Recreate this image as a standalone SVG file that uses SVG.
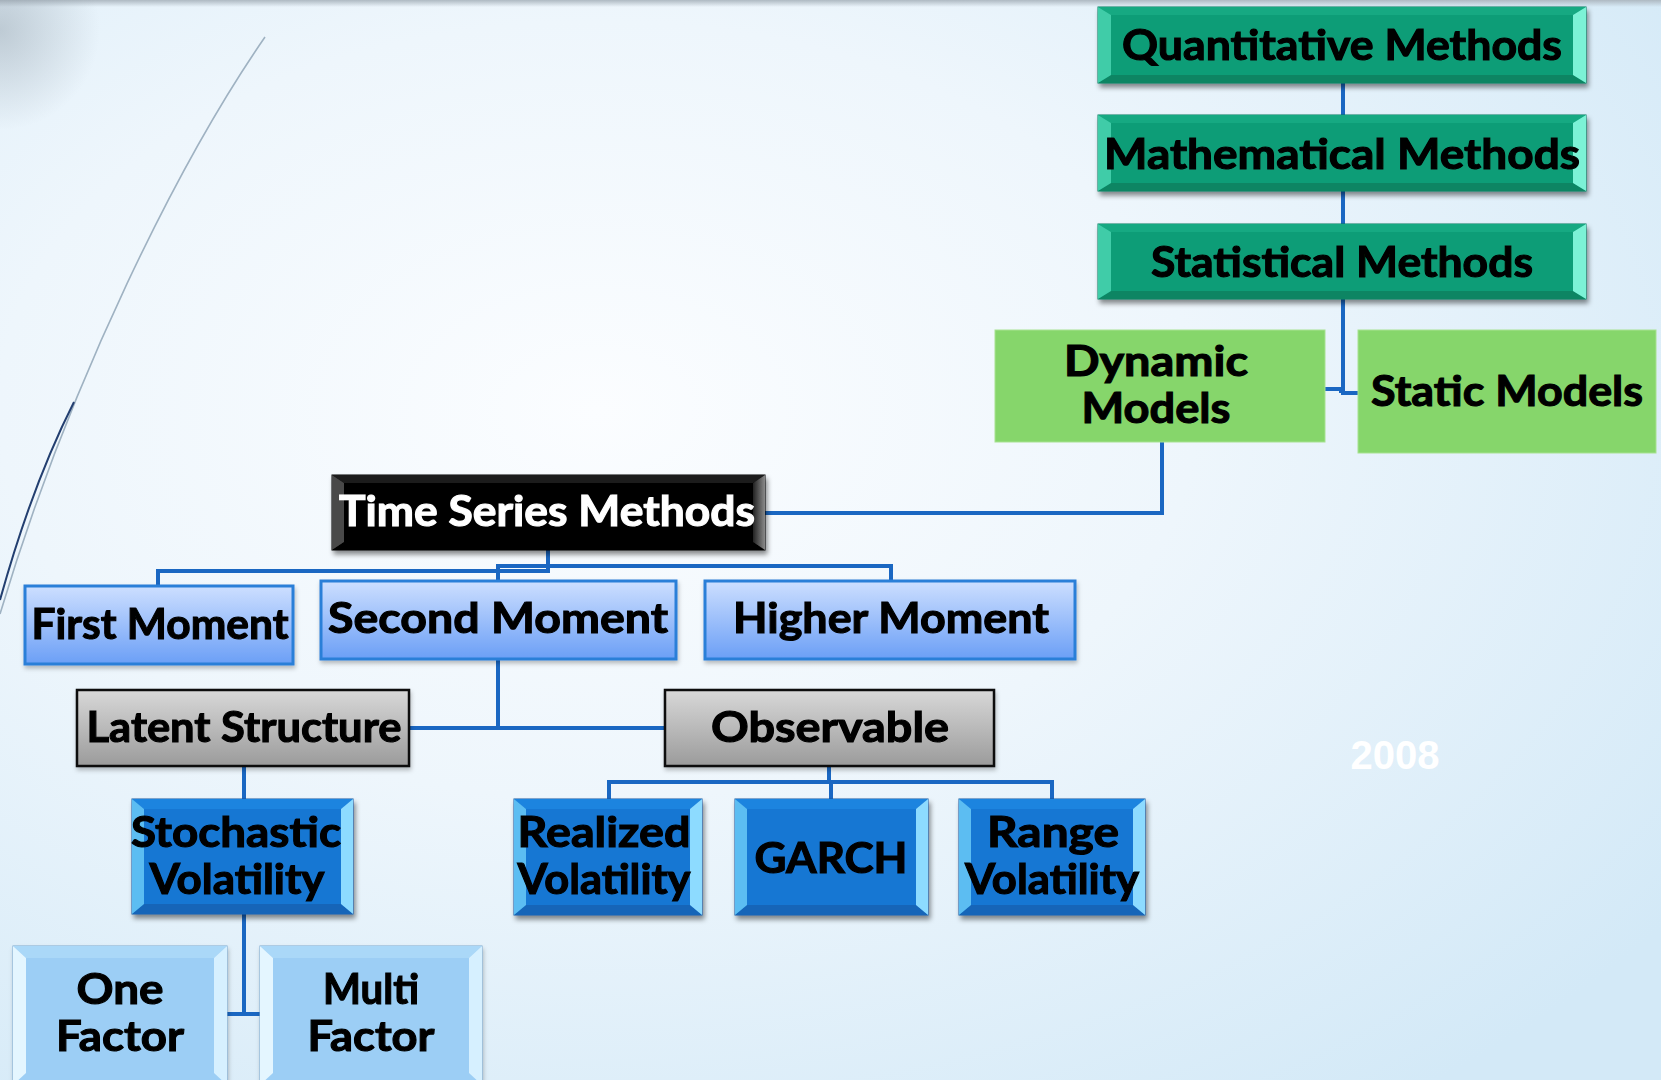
<svg xmlns="http://www.w3.org/2000/svg" width="1661" height="1080" viewBox="0 0 1661 1080">
  <defs>
    <radialGradient id="bg" cx="0.36" cy="0.38" r="0.8">
      <stop offset="0" stop-color="#fbfdff"/>
      <stop offset="0.45" stop-color="#eef6fc"/>
      <stop offset="1" stop-color="#d3e9f7"/>
    </radialGradient>
    <linearGradient id="topband" x1="0" y1="0" x2="0" y2="1">
      <stop offset="0" stop-color="#aeb9c2"/>
      <stop offset="1" stop-color="#aeb9c2" stop-opacity="0"/>
    </linearGradient>
    <radialGradient id="corner" gradientUnits="userSpaceOnUse" cx="0" cy="30" r="100">
      <stop offset="0" stop-color="#8e9ba6" stop-opacity="0.45"/>
      <stop offset="1" stop-color="#8e9ba6" stop-opacity="0"/>
    </radialGradient>
    <linearGradient id="moment" x1="0" y1="0" x2="0" y2="1">
      <stop offset="0" stop-color="#cddfff"/>
      <stop offset="1" stop-color="#6b9ff6"/>
    </linearGradient>
    <linearGradient id="grey" x1="0" y1="0" x2="0" y2="1">
      <stop offset="0" stop-color="#d8d8d8"/>
      <stop offset="1" stop-color="#9b9b9b"/>
    </linearGradient>
    <linearGradient id="blkRight" x1="0" y1="0" x2="1" y2="0">
      <stop offset="0" stop-color="#222"/>
      <stop offset="1" stop-color="#8a8a8a"/>
    </linearGradient>
    <filter id="shadow" x="-5%" y="-10%" width="110%" height="130%">
      <feDropShadow dx="2" dy="4" stdDeviation="2.5" flood-color="#000" flood-opacity="0.45"/>
    </filter>
    <filter id="softShadow" x="-5%" y="-10%" width="110%" height="130%">
      <feDropShadow dx="1" dy="3" stdDeviation="2" flood-color="#000" flood-opacity="0.25"/>
    </filter>
  </defs>
  <style>
    text { font-family: Lato, "Liberation Sans", "DejaVu Sans", sans-serif; font-weight: 700; font-size: 42px; text-anchor: middle; fill: #000; stroke: #000; stroke-width: 1.1; }
    .white { fill: #fff; stroke: #fff; }
    .conn { fill: none; stroke: #1a67c2; stroke-width: 4; }
    /* green bevel */
    .g-face { fill: #0f9d77; stroke: #0b7a5c; stroke-width: 1; }
    .g-l { fill: #3fcca8; } .g-r { fill: #7cf2d6; } .g-t { fill: #16a982; } .g-b { fill: #0b8564; }
    /* black bevel */
    .k-face { fill: #050505; stroke: #000; stroke-width: 1; }
    .k-l { fill: #4a4a4a; } .k-r { fill: url(#blkRight); } .k-t { fill: #1b1b1b; } .k-b { fill: #000; }
    /* dark blue bevel */
    .b-face { fill: #1777d3; stroke: #11599f; stroke-width: 1; }
    .b-l { fill: #5bbdf2; } .b-r { fill: #8ddbff; } .b-t { fill: #1f84df; } .b-b { fill: #1365b8; }
    /* light blue bevel */
    .l-face { fill: #9ccef5; stroke: #7ca9cf; stroke-width: 1; }
    .l-l { fill: #e4f6ff; } .l-r { fill: #d6f0ff; } .l-t { fill: #aad8f8; } .l-b { fill: #86bde8; }
    .mom { fill: url(#moment); stroke: #2a7fd8; stroke-width: 3; }
    .gray { fill: url(#grey); stroke: #111; stroke-width: 2.5; }
    .lg { fill: #86d66b; stroke: #a7e291; stroke-width: 1; }
  </style>

  <!-- backdrop -->
  <rect width="1661" height="1080" fill="url(#bg)"/>
  <rect width="1661" height="7" fill="url(#topband)"/>
  <rect width="140" height="160" fill="url(#corner)"/>
  <path d="M265,37 C180,160 70,380 0,614" fill="none" stroke="#9fb2c2" stroke-width="1.6"/>
  <path d="M74,402 Q32,485 0,600" fill="none" stroke="#233f70" stroke-width="2"/>

  <!-- connectors -->
  <g id="connectors">
    <path class="conn" d="M1343,83 V115"/>
    <path class="conn" d="M1343,191 V224"/>
    <path class="conn" d="M1343,299 V393 H1358"/>
    <path class="conn" d="M1325,389 H1341 V393"/>
    <path class="conn" d="M1162,442 V513 H765"/>
    <path class="conn" d="M548,550 V571 H158 V586"/>
    <path class="conn" d="M498,581 V566 H891 V581"/>
    <path class="conn" d="M498,659 V728"/>
    <path class="conn" d="M409,728 H665"/>
    <path class="conn" d="M244,766 V799"/>
    <path class="conn" d="M829,766 V782"/>
    <path class="conn" d="M609,799 V782 H1052 V799"/>
    <path class="conn" d="M831,782 V799"/>
    <path class="conn" d="M244,914 V1014"/>
    <path class="conn" d="M227,1014 H260"/>
  </g>

  <!-- top chain -->
  <g id="quantitative" filter="url(#shadow)">
    <rect class="g-face" x="1098" y="7" width="488" height="76"/>
    <polygon class="g-t" points="1098,7 1586,7 1573,15 1111,15"/>
    <polygon class="g-b" points="1098,83 1586,83 1573,75 1111,75"/>
    <polygon class="g-l" points="1098,7 1111,15 1111,75 1098,83"/>
    <polygon class="g-r" points="1586,7 1573,15 1573,75 1586,83"/>
    <text x="1342" y="60" textLength="440" lengthAdjust="spacingAndGlyphs">Quantitative Methods</text>
  </g>
  <g id="mathematical" filter="url(#shadow)">
    <rect class="g-face" x="1098" y="115" width="488" height="76"/>
    <polygon class="g-t" points="1098,115 1586,115 1573,123 1111,123"/>
    <polygon class="g-b" points="1098,191 1586,191 1573,183 1111,183"/>
    <polygon class="g-l" points="1098,115 1111,123 1111,183 1098,191"/>
    <polygon class="g-r" points="1586,115 1573,123 1573,183 1586,191"/>
    <text x="1342" y="169" textLength="476" lengthAdjust="spacingAndGlyphs">Mathematical Methods</text>
  </g>
  <g id="statistical" filter="url(#shadow)">
    <rect class="g-face" x="1098" y="224" width="488" height="75"/>
    <polygon class="g-t" points="1098,224 1586,224 1573,232 1111,232"/>
    <polygon class="g-b" points="1098,299 1586,299 1573,291 1111,291"/>
    <polygon class="g-l" points="1098,224 1111,232 1111,291 1098,299"/>
    <polygon class="g-r" points="1586,224 1573,232 1573,291 1586,299"/>
    <text x="1342" y="277" textLength="382" lengthAdjust="spacingAndGlyphs">Statistical Methods</text>
  </g>

  <!-- model types -->
  <g id="dynamic">
    <rect class="lg" x="995" y="330" width="330" height="112"/>
    <text x="1156" y="376" textLength="184" lengthAdjust="spacingAndGlyphs">Dynamic</text>
    <text x="1156" y="423" textLength="149" lengthAdjust="spacingAndGlyphs">Models</text>
  </g>
  <g id="static">
    <rect class="lg" x="1358" y="330" width="298" height="123"/>
    <text x="1507" y="406" textLength="272" lengthAdjust="spacingAndGlyphs">Static Models</text>
  </g>

  <!-- time series -->
  <g id="time-series" filter="url(#shadow)">
    <rect class="k-face" x="332" y="475" width="433" height="75"/>
    <polygon class="k-t" points="332,475 765,475 753,483 344,483"/>
    <polygon class="k-b" points="332,550 765,550 753,542 344,542"/>
    <polygon class="k-l" points="332,475 344,483 344,542 332,550"/>
    <polygon class="k-r" points="765,475 753,483 753,542 765,550"/>
    <text class="white" x="547" y="526" textLength="416" lengthAdjust="spacingAndGlyphs">Time Series Methods</text>
  </g>

  <!-- moments -->
  <g id="first-moment" filter="url(#softShadow)">
    <rect class="mom" x="25" y="586" width="268" height="78"/>
    <text x="160" y="639" textLength="257" lengthAdjust="spacingAndGlyphs">First Moment</text>
  </g>
  <g id="second-moment" filter="url(#softShadow)">
    <rect class="mom" x="321" y="581" width="355" height="78"/>
    <text x="498" y="633" textLength="340" lengthAdjust="spacingAndGlyphs">Second Moment</text>
  </g>
  <g id="higher-moment" filter="url(#softShadow)">
    <rect class="mom" x="705" y="581" width="370" height="78"/>
    <text x="891" y="633" textLength="316" lengthAdjust="spacingAndGlyphs">Higher Moment</text>
  </g>

  <!-- structure -->
  <g id="latent" filter="url(#softShadow)">
    <rect class="gray" x="77" y="690" width="332" height="76"/>
    <text x="244" y="742" textLength="315" lengthAdjust="spacingAndGlyphs">Latent Structure</text>
  </g>
  <g id="observable" filter="url(#softShadow)">
    <rect class="gray" x="665" y="690" width="329" height="76"/>
    <text x="830" y="742" textLength="238" lengthAdjust="spacingAndGlyphs">Observable</text>
  </g>

  <!-- volatility models -->
  <g id="stochastic" filter="url(#shadow)">
    <rect class="b-face" x="132" y="799" width="221" height="115"/>
    <polygon class="b-t" points="132,799 353,799 341,809 144,809"/>
    <polygon class="b-b" points="132,914 353,914 341,904 144,904"/>
    <polygon class="b-l" points="132,799 144,809 144,904 132,914"/>
    <polygon class="b-r" points="353,799 341,809 341,904 353,914"/>
    <text x="236" y="847" textLength="210" lengthAdjust="spacingAndGlyphs">Stochastic</text>
    <text x="237" y="894" textLength="175" lengthAdjust="spacingAndGlyphs">Volatility</text>
  </g>
  <g id="realized" filter="url(#shadow)">
    <rect class="b-face" x="514" y="799" width="188" height="116"/>
    <polygon class="b-t" points="514,799 702,799 690,809 526,809"/>
    <polygon class="b-b" points="514,915 702,915 690,905 526,905"/>
    <polygon class="b-l" points="514,799 526,809 526,905 514,915"/>
    <polygon class="b-r" points="702,799 690,809 690,905 702,915"/>
    <text x="604" y="847" textLength="173" lengthAdjust="spacingAndGlyphs">Realized</text>
    <text x="604" y="894" textLength="173" lengthAdjust="spacingAndGlyphs">Volatility</text>
  </g>
  <g id="garch" filter="url(#shadow)">
    <rect class="b-face" x="735" y="799" width="193" height="116"/>
    <polygon class="b-t" points="735,799 928,799 916,809 747,809"/>
    <polygon class="b-b" points="735,915 928,915 916,905 747,905"/>
    <polygon class="b-l" points="735,799 747,809 747,905 735,915"/>
    <polygon class="b-r" points="928,799 916,809 916,905 928,915"/>
    <text x="831" y="873" textLength="153" lengthAdjust="spacingAndGlyphs">GARCH</text>
  </g>
  <g id="range" filter="url(#shadow)">
    <rect class="b-face" x="959" y="799" width="186" height="116"/>
    <polygon class="b-t" points="959,799 1145,799 1133,809 971,809"/>
    <polygon class="b-b" points="959,915 1145,915 1133,905 971,905"/>
    <polygon class="b-l" points="959,799 971,809 971,905 959,915"/>
    <polygon class="b-r" points="1145,799 1133,809 1133,905 1145,915"/>
    <text x="1053" y="847" textLength="132" lengthAdjust="spacingAndGlyphs">Range</text>
    <text x="1052" y="894" textLength="174" lengthAdjust="spacingAndGlyphs">Volatility</text>
  </g>

  <!-- factor models -->
  <g id="one-factor" filter="url(#softShadow)">
    <rect class="l-face" x="13" y="946" width="214" height="139"/>
    <polygon class="l-t" points="13,946 227,946 214,958 26,958"/>
    <polygon class="l-l" points="13,946 26,958 26,1073 13,1085"/>
    <polygon class="l-r" points="227,946 214,958 214,1073 227,1085"/>
    <text x="120" y="1004" textLength="87" lengthAdjust="spacingAndGlyphs">One</text>
    <text x="120" y="1051" textLength="128" lengthAdjust="spacingAndGlyphs">Factor</text>
  </g>
  <g id="multi-factor" filter="url(#softShadow)">
    <rect class="l-face" x="260" y="946" width="222" height="139"/>
    <polygon class="l-t" points="260,946 482,946 469,958 273,958"/>
    <polygon class="l-l" points="260,946 273,958 273,1073 260,1085"/>
    <polygon class="l-r" points="482,946 469,958 469,1073 482,1085"/>
    <text x="371" y="1004" textLength="96" lengthAdjust="spacingAndGlyphs">Multi</text>
    <text x="371" y="1051" textLength="127" lengthAdjust="spacingAndGlyphs">Factor</text>
  </g>

  <!-- year stamp -->
  <text x="1395" y="769" style="font-family:'Liberation Sans', Arial, sans-serif; font-size:40px; fill:#ffffff; stroke:none;">2008</text>
</svg>
